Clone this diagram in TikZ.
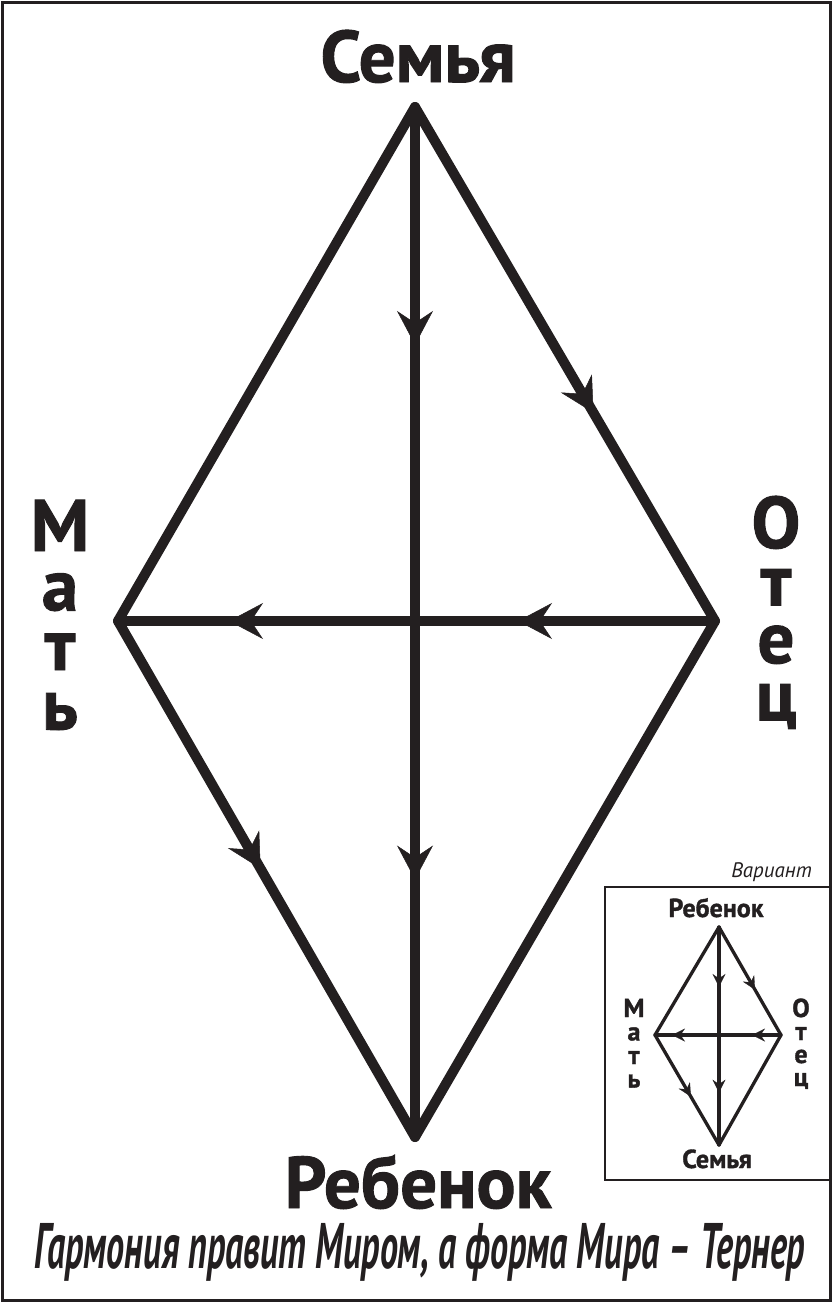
\documentclass[tikz,border=0pt]{standalone}
\usepackage{fontspec}
\setmainfont{PT Sans}[BoldFeatures={FakeBold=1.3}]
\newfontfamily\mottofont{PT Sans}[FakeStretch=0.56, BoldFeatures={FakeBold=1.6}]
\usepackage{graphicx}
\usetikzlibrary{arrows.meta,decorations.markings}
\usepackage{xcolor}
\definecolor{lineblack}{RGB}{35,31,32}

\begin{document}
\begin{tikzpicture}[x=1pt, y=-1pt,
  bigline/.style={draw=lineblack, line width=10pt, line cap=round, line join=round},
  smallline/.style={draw=lineblack, line width=3.3pt, line cap=round, line join=round},
  bigarrow/.style={postaction={decorate, decoration={markings, mark=at position #1 with {\arrow{Stealth[length=34pt, width=36pt, inset=12pt, line width=0.5pt]}}}}},
  smallarrow/.style={postaction={decorate, decoration={markings, mark=at position #1 with {\arrow{Stealth[length=13pt, width=13pt, inset=4.5pt, line width=0.3pt]}}}}},
  biglabel/.style={text=lineblack, font=\fontsize{73}{80}\selectfont\bfseries, inner sep=0pt, anchor=base},
  smalllabel/.style={text=lineblack, font=\fontsize{26}{30}\selectfont\bfseries, inner sep=0pt, anchor=base}]
\useasboundingbox (0,0) rectangle (832,1302);
\draw[lineblack, line width=3pt] (2,2) rectangle (830,1300);

\coordinate (top) at (415,107);
\coordinate (left) at (118,621);
\coordinate (right) at (715,621);
\coordinate (bottom) at (415,1137);
\draw[bigline] (top) -- (left);
\draw[bigline, bigarrow=0.595] (top) -- (right);
\draw[bigline] (right) -- (bottom);
\draw[bigline, bigarrow=0.48] (left) -- (bottom);
\draw[bigline, bigarrow=0.231, bigarrow=0.75] (top) -- (bottom);
\draw[bigline, bigarrow=0.33, bigarrow=0.814] (right) -- (left);

\node[biglabel] (family) at (418,82) {Семья};
\node[biglabel] (child) at (418,1208) {Ребенок};
\foreach \ch [count=\i from 0] in {М,а,т,ь}
  \node[biglabel] (mother\i) at (60,{551+59.5*\i}) {\ch};
\foreach \ch [count=\i from 0] in {О,т,е,ц}
  \node[biglabel] (father\i) at (776,{548+57.5*\i}) {\ch};

\draw[lineblack, line width=2.5pt] (605,887) rectangle (830,1180);
\node[anchor=base east, inner sep=0pt, text=lineblack, font=\fontsize{21}{24}\selectfont\itshape] (variant) at (812,877) {Вариант};

\coordinate (vtop) at (719,927);
\coordinate (vleft) at (655,1035);
\coordinate (vright) at (781,1035);
\coordinate (vbottom) at (719,1145);
\draw[smallline] (vtop) -- (vleft);
\draw[smallline, smallarrow=0.58] (vtop) -- (vright);
\draw[smallline] (vright) -- (vbottom);
\draw[smallline, smallarrow=0.56] (vleft) -- (vbottom);
\draw[smallline, smallarrow=0.275, smallarrow=0.76] (vtop) -- (vbottom);
\draw[smallline, smallarrow=0.23, smallarrow=0.865] (vright) -- (vleft);

\node[smalllabel] (vchild) at (716,917) {Ребенок};
\node[smalllabel] (vfamily) at (717,1168) {Семья};
\foreach \ch [count=\i from 0] in {М,а,т,ь}
  \node[smalllabel] (vmother\i) at (634,{1017+23.5*\i}) {\ch};
\foreach \ch [count=\i from 0] in {О,т,е,ц}
  \node[smalllabel] (vfather\i) at (801,{1017+23*\i}) {\ch};

\node[inner sep=0pt, text=lineblack] (motto) at (420,1252) {\resizebox{770pt}{!}{\mottofont\bfseries\itshape Гармония правит Миром, а форма Мира – Тернер}};
\end{tikzpicture}
\end{document}
